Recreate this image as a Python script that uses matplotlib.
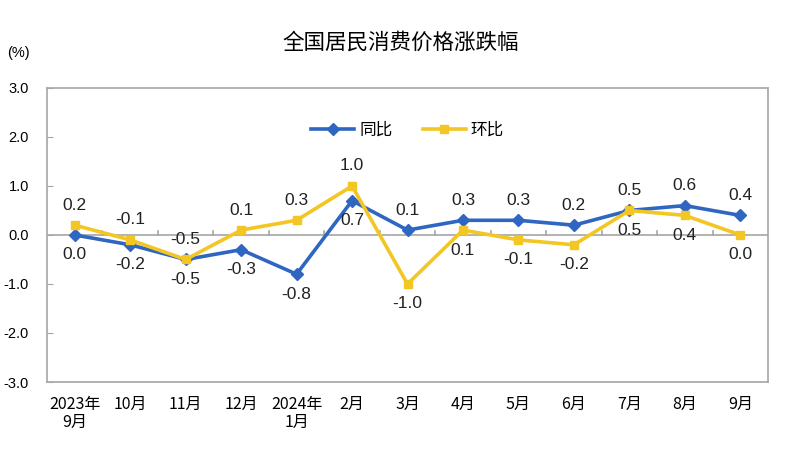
import numpy as np
import matplotlib.pyplot as plt

months = ['2023年\n9月', '10月', '11月', '12月', '2024年\n1月', '2月', '3月',
          '4月', '5月', '6月', '7月', '8月', '9月']
yoy = [0.0, -0.2, -0.5, -0.3, -0.8, 0.7, 0.1, 0.3, 0.3, 0.2, 0.5, 0.6, 0.4]
mom = [0.2, -0.1, -0.5, 0.1, 0.3, 1.0, -1.0, 0.1, -0.1, -0.2, 0.5, 0.4, 0.0]
# True -> 同比 label above the point, 环比 label below
yoy_on_top = [False, False, False, False, False, False, True,
              True, True, True, True, True, True]

cjk = ['Noto Sans CJK SC', 'DejaVu Sans']
num_font = ['Liberation Sans', 'DejaVu Sans']
blue = '#2F66C1'
yellow = '#F3C623'
grey = '#A6A6A6'

fig = plt.figure(figsize=(7.93, 4.69), dpi=100)
ax = fig.add_axes([0.0593, 0.1855, 0.9092, 0.6269])

x = np.arange(len(months))
ax.plot(x, yoy, color=blue, lw=2.6, marker='D', ms=6, label='同比', zorder=3)
ax.plot(x, mom, color=yellow, lw=2.6, marker='s', ms=6, label='环比', zorder=3)

# data labels
for i in x:
    for vals, top in ((yoy, yoy_on_top[i]), (mom, not yoy_on_top[i])):
        dy = 9 if top else -9
        ax.annotate(f'{vals[i]:.1f}', (i, vals[i]), xytext=(0, dy),
                    textcoords='offset points', ha='center',
                    va='bottom' if top else 'top', fontsize=12.5,
                    family=num_font, color='#222222')

ax.set_xlim(-0.5, len(months) - 0.5)
ax.set_ylim(-3, 3)
ax.set_yticks(np.arange(-3, 3.1, 1))
ax.set_yticklabels([f'{v:.1f}' for v in np.arange(-3, 3.1, 1)],
                   family=num_font, fontsize=10.5)
ax.set_xticks(x)
ax.set_xticklabels(months, family=cjk, fontsize=11.5, linespacing=1.1)
ax.tick_params(axis='x', length=0, pad=10)
ax.tick_params(axis='y', direction='in', length=4, color=grey, pad=13)
for s in ax.spines.values():
    s.set_color(grey)
    s.set_linewidth(1.2)

# zero line with category ticks
ax.axhline(0, color=grey, lw=1.2, zorder=1)
for b in np.arange(0.5, len(months) - 0.5, 1):
    ax.plot([b, b], [0, 0.09], color=grey, lw=1.2, zorder=1)

leg = ax.legend(loc='center', bbox_to_anchor=(0.5, 0.857), ncol=2,
                frameon=False, prop={'family': cjk, 'size': 12},
                handlelength=2.6, columnspacing=1.8, handletextpad=0.3)

fig.text(0.505, 0.91, '全国居民消费价格涨跌幅', ha='center', va='center',
         family=cjk, fontsize=15.5)
fig.text(0.023, 0.888, '(%)', ha='center', va='center', family=num_font,
         fontsize=10.5)

fig.savefig('out.png', dpi=100)
